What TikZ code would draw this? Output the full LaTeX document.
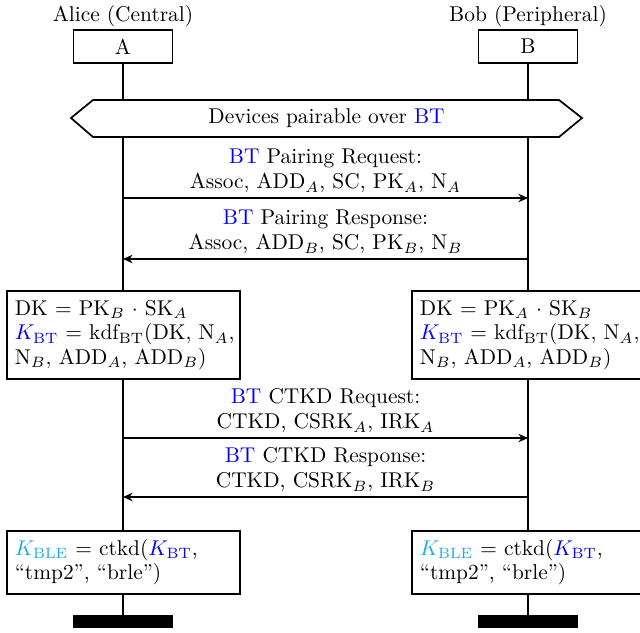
\documentclass[tikz,border=0pt]{standalone}
\usetikzlibrary{arrows.meta}
\definecolor{bleblue}{RGB}{30,170,235}
\newcommand{\BTt}{\textcolor{blue}{BT}}
\newcommand{\KBT}{{\color{blue}K_{\mathrm{BT}}}}
\newcommand{\KBLE}{{\color{bleblue}K_{\mathrm{BLE}}}}
\begin{document}
\begin{tikzpicture}[x=0.4673pt,y=-0.4673pt,
  lifeline/.style={line width=0.6pt},
  ent/.style={draw, line width=0.8pt, minimum width=46.3pt, minimum height=15.4pt, inner sep=0pt, fill=white},
  endbar/.style={fill=black, minimum width=46.3pt, minimum height=6.1pt, inner sep=0pt},
  msg/.style={line width=0.6pt, -{Stealth[length=4.5pt,width=4pt]}},
  lbl/.style={anchor=south, align=center, inner sep=2pt},
  act/.style={draw, line width=0.8pt, fill=white, anchor=north, text width=101.5pt, align=left, inner xsep=3.7pt, inner ysep=3.33pt, font=\fontsize{10}{11.5}\selectfont},
  condbox/.style={draw, line width=0.8pt, fill=white}]
\useasboundingbox (0,0) rectangle (640,632);
% heads
\node[anchor=base] (tA) at (123,22) {Alice (Central)};
\node[anchor=base] (tB) at (528,22) {Bob (Peripheral)};
\node[ent] (A) at (123,46.5) {A};
\node[ent] (B) at (528,46.5) {B};
\node[endbar] (eA) at (123,621.5) {};
\node[endbar] (eB) at (528,621.5) {};
\draw[lifeline] (A) -- (eA);
\draw[lifeline] (B) -- (eB);
% condition
\draw[condbox] (71,118) -- (93,100) -- (559,100) -- (582,118) -- (559,137) -- (93,137) -- cycle;
\node (cond) at (326.5,118) {Devices pairable over \BTt};
% messages
\coordinate (m1a) at (123,198); \coordinate (m1b) at (528,198);
\coordinate (m2a) at (123,259); \coordinate (m2b) at (528,259);
\coordinate (m3a) at (123,438); \coordinate (m3b) at (528,438);
\coordinate (m4a) at (123,497); \coordinate (m4b) at (528,497);
\draw[msg] (m1a) -- (m1b) node[midway, lbl] (l1) {\BTt{} Pairing Request:\\ Assoc, ADD$_A$, SC, PK$_A$, N$_A$};
\draw[msg] (m2b) -- (m2a) node[midway, lbl] (l2) {\BTt{} Pairing Response:\\ Assoc, ADD$_B$, SC, PK$_B$, N$_B$};
\draw[msg] (m3a) -- (m3b) node[midway, lbl] (l3) {\BTt{} CTKD Request:\\ CTKD, CSRK$_A$, IRK$_A$};
\draw[msg] (m4b) -- (m4a) node[midway, lbl] (l4) {\BTt{} CTKD Response:\\ CTKD, CSRK$_B$, IRK$_B$};
% actions
\node[act] (kA) at (123.5,290) {\strut DK $=$ PK$_B$ $\cdot$ SK$_A$\\
  \strut\mbox{$\KBT$ $=$ kdf$_{\mathrm{BT}}$(DK, N$_A$,}\\
  \strut N$_B$, ADD$_A$, ADD$_B$)};
\node[act] (kB) at (528.5,290) {\strut DK $=$ PK$_A$ $\cdot$ SK$_B$\\
  \strut\mbox{$\KBT$ $=$ kdf$_{\mathrm{BT}}$(DK, N$_A$,}\\
  \strut N$_B$, ADD$_A$, ADD$_B$)};
\node[act] (cA) at (123.5,530) {\strut$\KBLE$ $=$ ctkd($\KBT$,\\
  \strut``tmp2'', ``brle'')};
\node[act] (cB) at (528.5,530) {\strut$\KBLE$ $=$ ctkd($\KBT$,\\
  \strut``tmp2'', ``brle'')};
\end{tikzpicture}
\end{document}
